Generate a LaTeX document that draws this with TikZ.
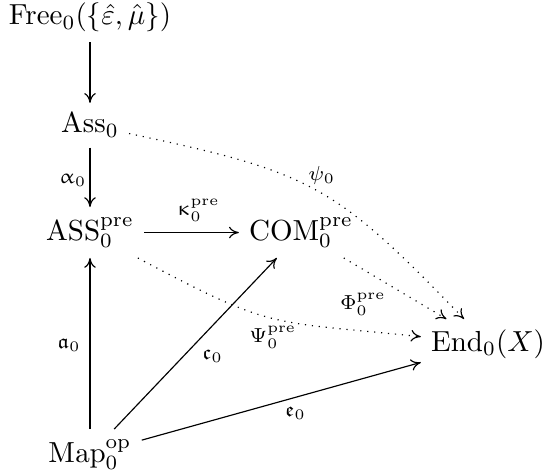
\documentclass[tikz,border=0pt]{standalone}
\usepackage{amssymb}
\usepackage{upgreek}
\usetikzlibrary{arrows.meta}
\begin{document}
\begin{tikzpicture}[x=0.3448pt,y=0.3448pt,
  obj/.style={anchor=base, inner sep=3.33pt},
  lbl/.style={inner sep=3pt},
  tip/.style={-{Computer Modern Rightarrow[length=3.4pt,width=4pt]}},
  arr/.style={tip},
  dotarr/.style={tip, dotted}]
\useasboundingbox (0,0) rectangle (544,-473);
\node[obj] (free) at (90,-25) {$\mathrm{Free}_0(\{\hat{\varepsilon},\hat{\mu}\})$};
\node[obj] (ass)  at (90,-133) {$\mathrm{Ass}_0$};
\node[obj] (ASS)  at (90,-240) {$\mathrm{ASS}_0^{\mathrm{pre}}$};
\node[obj] (COM)  at (301,-240) {$\mathrm{COM}_0^{\mathrm{pre}}$};
\node[obj] (End)  at (488,-351) {$\mathrm{End}_0(X)$};
\node[obj] (Map)  at (90,-462) {$\mathrm{Map}_0^{\mathrm{op}}$};

\draw[arr] (free) -- (ass);
\draw[arr] (ass) -- node[lbl, left, inner sep=1pt, pos=0.55] {$\scriptstyle \upalpha_0$} (ASS);
\draw[arr] (ASS) -- node[lbl, above, pos=0.57, inner sep=3.5pt] {$\scriptstyle \upkappa_0^{\mathrm{pre}}$} (COM);
\draw[arr] (Map) -- node[lbl, left, pos=0.49] {$\scriptstyle \mathfrak{a}_0$} (ASS);
\draw[arr] (Map) -- node[lbl, below right, pos=0.5, inner sep=2pt] {$\scriptstyle \mathfrak{c}_0$} (COM);
\draw[arr] (Map) -- node[lbl, below, pos=0.55] {$\scriptstyle \mathfrak{e}_0$} (End);
\draw[dotarr] (ass) to[out=-12, in=134, looseness=1.25] node[lbl, above, pos=0.52] {$\scriptstyle \psi_0$} (End);
\draw[dotarr] (ASS) to[out=-28, in=174, looseness=1.35] node[lbl, below, pos=0.5, inner sep=2.5pt] {$\scriptstyle \Psi_0^{\mathrm{pre}}$} (End);
\draw[dotarr] (COM) -- node[lbl, below left, pos=0.47, inner sep=2pt] {$\scriptstyle \Phi_0^{\mathrm{pre}}$} (End);
\end{tikzpicture}
\end{document}
